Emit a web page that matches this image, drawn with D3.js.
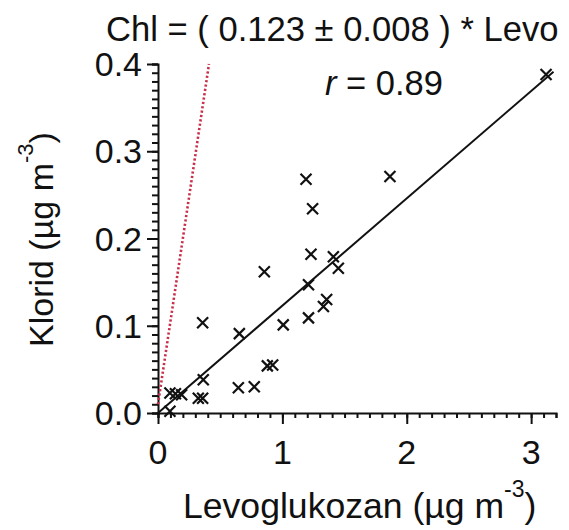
<!DOCTYPE html>
<html><head><meta charset="utf-8">
<script src="https://cdn.jsdelivr.net/npm/d3@7"></script>
<style>body{margin:0;background:#fff}svg{display:block}text{font-family:"Liberation Sans",Arial,sans-serif;fill:#111}</style>
</head><body>
<svg id="c" width="569" height="530"></svg>
<script>
// Data
const levo = [1.19,1.865,1.243,1.23,1.41,1.45,0.855,1.21,1.356,1.33,1.21,1.007,0.359,0.654,0.879,0.922,0.646,0.774,0.364,0.324,0.359,0.19,0.096,0.14,0.096,3.12];
const chl  = [0.268,0.271,0.234,0.182,0.179,0.166,0.162,0.147,0.130,0.122,0.109,0.101,0.1035,0.091,0.054,0.055,0.029,0.030,0.038,0.017,0.017,0.021,0.023,0.022,0.002,0.388];
const xTicks = [0,1,2,3];
const yTicks = [0.0,0.1,0.2,0.3,0.4];
const fitSlope = 0.123;
const fitRange = [0,3.18];
const refLine = [[0,0.01],[0.41,0.4]];
const title = "Chl = ( 0.123 ± 0.008 ) * Levo";
const rText = " = 0.89";

const svg = d3.select("#c");
const x = d3.scaleLinear().domain([0,3.2]).range([158,556]);
const y = d3.scaleLinear().domain([0,0.4]).range([413,64]);

// axes with minor ticks
const xMinor = d3.range(0,3.2001,0.1);
const yMinor = d3.range(0,0.4001,0.01);
const gx = svg.append("g").attr("transform","translate(0,413)");
gx.call(d3.axisBottom(x).tickValues(xMinor).tickSize(5).tickFormat(""));
gx.append("g").call(d3.axisBottom(x).tickValues(xTicks).tickSize(11).tickFormat(""));
const gy = svg.append("g").attr("transform","translate(158,0)");
gy.call(d3.axisLeft(y).tickValues(yMinor).tickSize(6).tickFormat(""));
gy.append("g").call(d3.axisLeft(y).tickValues(yTicks).tickSize(11).tickFormat(""));
svg.selectAll(".domain").attr("stroke","#111").attr("stroke-width",2);
svg.selectAll(".tick line").attr("stroke","#111").attr("stroke-width",2);
svg.selectAll("g g .domain").remove();

// tick labels
svg.append("g").selectAll("text").data(xTicks).join("text")
  .attr("x",d=>x(d)).attr("y",464).attr("text-anchor","middle")
  .attr("font-size",34).text(d=>d);
svg.append("g").selectAll("text").data(yTicks).join("text")
  .attr("x",142).attr("y",d=>y(d)).attr("dy","0.36em").attr("text-anchor","end")
  .attr("font-size",34).text(d=>d.toFixed(1));

// reference dotted line
svg.append("line")
  .attr("x1",x(refLine[0][0])).attr("y1",y(refLine[0][1]))
  .attr("x2",x(refLine[1][0])).attr("y2",y(refLine[1][1]))
  .attr("stroke","#c8304a").attr("stroke-width",2.6).attr("stroke-dasharray","2.2,2.2");

// fit line
svg.append("line")
  .attr("x1",x(fitRange[0])).attr("y1",y(fitSlope*fitRange[0]))
  .attr("x2",x(fitRange[1])).attr("y2",y(fitSlope*fitRange[1]))
  .attr("stroke","#111").attr("stroke-width",2);

// crosses
const pts = levo.map((v,i)=>[v,chl[i]]);
const s = 5.5;
svg.append("g").selectAll("path").data(pts).join("path")
  .attr("d",d=>{const cx=x(d[0]),cy=y(d[1]);return `M${cx-s},${cy-s}L${cx+s},${cy+s}M${cx-s},${cy+s}L${cx+s},${cy-s}`;})
  .attr("stroke","#111").attr("stroke-width",2.2).attr("fill","none");

// title
svg.append("text").attr("x",106).attr("y",41).attr("font-size",34.6).text(title);
// r text
const rt = svg.append("text").attr("x",325).attr("y",95).attr("font-size",34.5);
rt.append("tspan").attr("font-style","italic").text("r");
rt.append("tspan").text(rText);

// x title
const xt = svg.append("text").attr("x",183).attr("y",518).attr("font-size",35.6);
xt.append("tspan").text("Levoglukozan (µg m");
xt.append("tspan").attr("font-size",23).attr("dy",-21).text("-3");
xt.append("tspan").attr("dy",21).text(")");

// y title
const yt = svg.append("text").attr("transform","translate(53,347) rotate(-90)").attr("font-size",34);
yt.append("tspan").text("Klorid (µg m");
yt.append("tspan").attr("font-size",22).attr("dy",-20).text("-3");
yt.append("tspan").attr("dy",20).text(")");
</script>
</body></html>
